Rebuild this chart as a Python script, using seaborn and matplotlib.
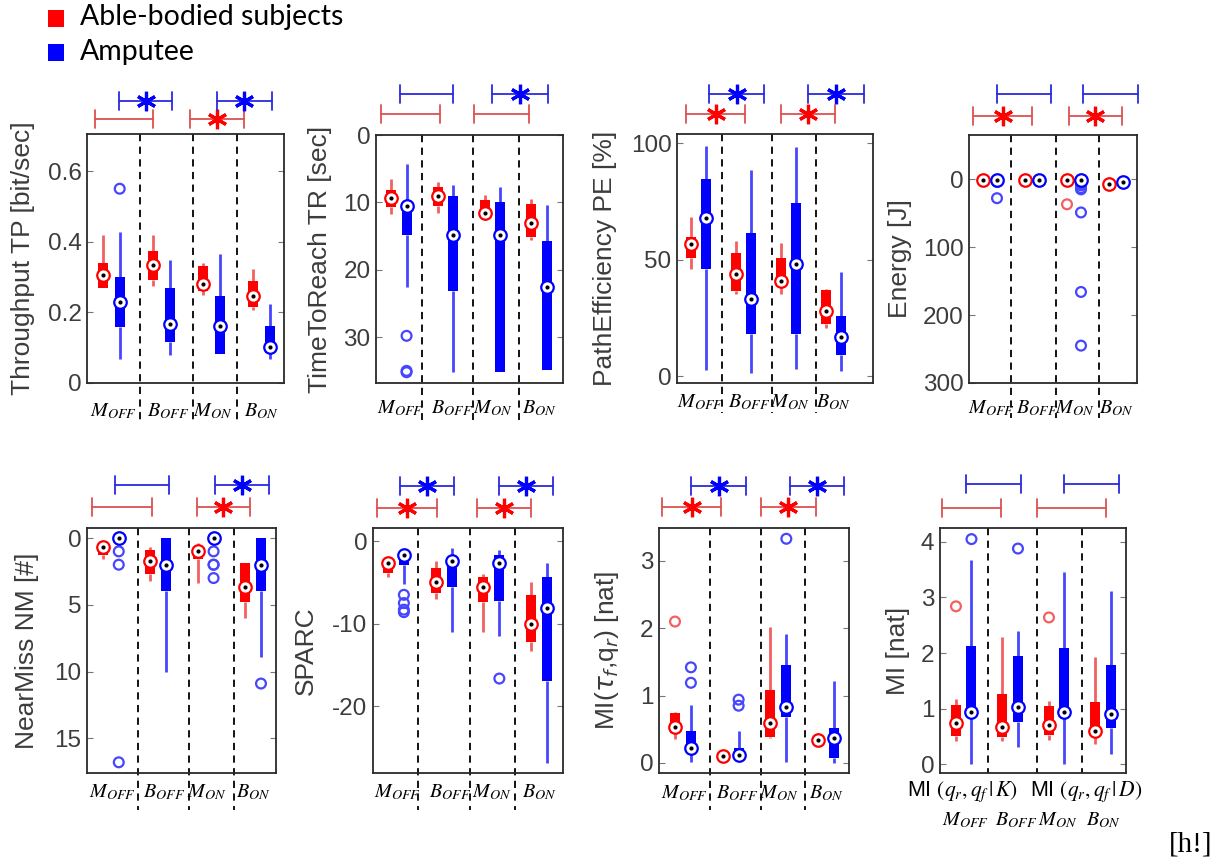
import numpy as np
import pandas as pd
import matplotlib
matplotlib.use("Agg")
import matplotlib.pyplot as plt
import matplotlib.transforms as mtransforms
from matplotlib.patches import Rectangle
import seaborn as sns

# ---------------- data ----------------
GROUPS = [r"$M_{OFF}$", r"$B_{OFF}$", r"$M_{ON}$", r"$B_{ON}$"]
SUBJECTS = ["Able-bodied subjects", "Amputee"]

# per group: [lower whisker, Q1, median, Q3, upper whisker]
TP_ABLE = [[0.27, 0.27, 0.307, 0.34, 0.42], [0.275, 0.293, 0.334, 0.373, 0.418],
           [0.249, 0.261, 0.28, 0.332, 0.34], [0.207, 0.216, 0.247, 0.29, 0.322]]
TP_AMP = [[0.068, 0.158, 0.23, 0.30, 0.428], [0.08, 0.116, 0.167, 0.268, 0.348],
          [0.082, 0.082, 0.16, 0.246, 0.364], [0.068, 0.085, 0.103, 0.16, 0.223]]
TP_ABLE_OUT = [[], [], [], []]
TP_AMP_OUT = [[0.55], [], [], []]

TR_ABLE = [[6.5, 8.2, 9.3, 10.7, 11.7], [7.0, 7.7, 9.1, 10.5, 11.5],
           [8.9, 9.7, 11.5, 12.2, 12.6], [9.5, 10.3, 13.1, 15.1, 15.6]]
TR_AMP = [[4.3, 10.3, 10.5, 14.9, 22.5], [7.4, 9.0, 14.8, 23.1, 35.1],
          [7.7, 10.0, 14.8, 35.1, 35.1], [10.4, 15.8, 22.5, 34.8, 34.8]]
TR_ABLE_OUT = [[], [], [], []]
TR_AMP_OUT = [[29.8, 35.0, 35.2], [], [], []]

PE_ABLE = [[45.8, 50.5, 56.7, 59.8, 68.4], [35.4, 36.4, 44.0, 53.0, 58.0],
           [35.4, 39.5, 40.9, 50.5, 57.2], [20.8, 22.5, 28.0, 36.9, 37.6]]
PE_AMP = [[2.7, 46.2, 67.7, 84.5, 98.9], [1.4, 17.9, 32.9, 61.3, 88.5],
          [3.2, 18.2, 48.1, 74.5, 98.6], [2.2, 8.9, 16.8, 25.8, 44.8]]
PE_ABLE_OUT = [[], [], [], []]
PE_AMP_OUT = [[], [], [], []]

EN_ABLE = [[0.0, 0.2, 0.5, 0.8, 1.2], [0.0, 0.2, 0.5, 0.8, 1.2],
           [0.0, 0.2, 0.5, 0.8, 1.2], [5.0, 6.0, 7.0, 8.0, 9.0]]
EN_AMP = [[0.0, 0.3, 0.8, 1.5, 2.5], [0.0, 0.5, 1.0, 2.0, 3.0],
          [0.0, 0.2, 0.5, 1.0, 1.5], [1.0, 2.0, 3.5, 4.5, 6.0]]
EN_ABLE_OUT = [[], [], [37], []]
EN_AMP_OUT = [[2, 3, 4, 28], [], [2, 4, 6, 9, 13, 15, 49, 166, 245], []]

NM_ABLE = [[0.4, 0.5, 0.7, 1.25, 1.6], [0.7, 0.9, 1.7, 2.7, 3.25],
           [0.4, 0.7, 1.0, 1.6, 3.4], [1.9, 1.9, 3.7, 4.8, 6.0]]
NM_AMP = [[0, 0, 0, 0, 0], [0, 0, 2, 4, 10], [0, 0, 0, 0, 0], [0, 0, 2, 4, 8.9]]
NM_ABLE_OUT = [[], [], [], []]
NM_AMP_OUT = [[1, 2, 16.8], [], [1, 2, 2, 3], [10.9]]

SP_ABLE = [[-4.4, -3.8, -2.7, -2.5, -2.2], [-7.0, -6.3, -4.9, -3.2, -2.4],
           [-11.0, -7.4, -5.5, -4.4, -4.0], [-13.3, -12.2, -10.0, -6.5, -5.0]]
SP_AMP = [[-5.2, -2.9, -1.7, -1.7, -1.1], [-11.0, -5.5, -2.4, -1.9, -0.8],
          [-11.5, -7.3, -2.66, -1.65, -1.05], [-26.9, -16.9, -8.1, -4.3, -2.7]]
SP_ABLE_OUT = [[], [], [], []]
SP_AMP_OUT = [[-6.5, -7.5, -8.3, -8.6], [], [-16.65], []]

MT_ABLE = [[0.35, 0.44, 0.53, 0.74, 0.76], [0.07, 0.08, 0.10, 0.12, 0.13],
           [0.37, 0.39, 0.59, 1.09, 2.02], [0.28, 0.30, 0.34, 0.39, 0.45]]
MT_AMP = [[0.01, 0.15, 0.22, 0.48, 0.86], [0.03, 0.05, 0.12, 0.22, 0.47],
          [0.01, 0.68, 0.83, 1.46, 1.92], [0.0, 0.07, 0.37, 0.52, 1.21]]
MT_ABLE_OUT = [[2.1], [], [], []]
MT_AMP_OUT = [[1.19, 1.42], [0.85, 0.94], [3.33], []]

MI_ABLE = [[0.41, 0.5, 0.74, 1.07, 1.18], [0.42, 0.49, 0.67, 1.27, 2.29],
           [0.43, 0.52, 0.71, 1.04, 1.14], [0.36, 0.52, 0.59, 1.11, 1.93]]
MI_AMP = [[0.01, 0.93, 0.93, 2.12, 3.68], [0.3, 0.76, 1.03, 1.94, 2.4],
          [0.01, 0.93, 0.93, 2.09, 3.46], [0.19, 0.65, 0.91, 1.78, 3.12]]
MI_ABLE_OUT = [[2.84], [], [2.64], []]
MI_AMP_OUT = [[4.05], [3.88], [], []]

# significance stars for the bars [able 1, amputee 1, able 2, amputee 2]
SIG = {
    "TP": [0, 1, 1, 1], "TR": [0, 0, 0, 1], "PE": [1, 1, 1, 1], "EN": [1, 0, 1, 0],
    "NM": [0, 0, 1, 1], "SP": [1, 1, 1, 1], "MT": [1, 1, 1, 1], "MI": [0, 0, 0, 0],
}

# ---------------- style ----------------
sns.set_theme(style="white")
plt.rcParams["font.family"] = ["Liberation Sans", "DejaVu Sans"]
plt.rcParams["axes.unicode_minus"] = False

RED, BLUE = "#ff0000", "#0000ff"
RED_W, BLUE_W = "#f26060", "#4646ff"
RED_BAR, BLUE_BAR = "#dd5050", "#2a2ae0"
TXT = "#3c3c3c"
W, H = 1227, 864

POS_ABLE = [1, 4, 7, 10]
POS_AMP = [2, 5, 8, 11]
LAB_X = [1.6, 4.9, 7.55, 10.5]

PANELS = [
    dict(key="TP", able=TP_ABLE, amp=TP_AMP, ao=TP_ABLE_OUT, bo=TP_AMP_OUT,
         ylabel="Throughput TP [bit/sec]", ylim=(0, 0.705), yt=[0, 0.2, 0.4, 0.6],
         ytl=["0", "0.2", "0.4", "0.6"], box=(87, 134, 284, 383), xlim=(0.04, 11.84),
         div=[3.2, 6.4, 9.0], bars=[(0.52, 4.0), (1.96, 5.13), (6.2, 9.44), (7.8, 11.1)],
         bdy=(15, 33), lab=28, ddy=39, ylx=23),
    dict(key="TR", able=TR_ABLE, amp=TR_AMP, ao=TR_ABLE_OUT, bo=TR_AMP_OUT,
         ylabel="TimeToReach TR [sec]", ylim=(36.8, 0), yt=[0, 10, 20, 30],
         ytl=["0", "10", "20", "30"], box=(376, 135, 563, 383), xlim=(0.04, 12.03),
         div=[2.99, 6.26, 9.2], bars=[(0.36, 4.13), (1.6, 5.0), (6.3, 9.85), (7.5, 11.06)],
         bdy=(21, 41), lab=25, ddy=37, ylx=320),
    dict(key="PE", able=PE_ABLE, amp=PE_AMP, ao=PE_ABLE_OUT, bo=PE_AMP_OUT,
         ylabel="PathEfficiency PE [%]", ylim=(-3, 104), yt=[0, 50, 100],
         ytl=["0", "50", "100"], box=(677, 134, 873, 383), xlim=(0.07, 13.1),
         div=[3.05, 6.36, 9.34], bars=[(0.67, 4.6), (2.2, 5.87), (7.0, 10.6), (8.8, 12.5)],
         bdy=(20, 40), lab=19, ddy=30, ylx=605),
    dict(key="EN", able=EN_ABLE, amp=EN_AMP, ao=EN_ABLE_OUT, bo=EN_AMP_OUT,
         ylabel="Energy [J]", ylim=(300, -65), yt=[0, 100, 200, 300],
         ytl=["0", "100", "200", "300"], box=(969, 135, 1137, 383), xlim=(0.0, 12.0),
         div=[3.0, 6.2, 9.3], bars=[(0.29, 4.5), (2.0, 5.86), (7.14, 10.9), (8.14, 12.07)],
         bdy=(19, 41), lab=25, ddy=35, ylx=900),
    dict(key="NM", able=NM_ABLE, amp=NM_AMP, ao=NM_ABLE_OUT, bo=NM_AMP_OUT,
         ylabel="NearMiss NM [#]", ylim=(17.6, -0.75), yt=[0, 5, 10, 15],
         ytl=["0", "5", "10", "15"], box=(87, 528, 276, 773), xlim=(-0.01, 11.95),
         div=[3.2, 6.44, 9.3], bars=[(0.3, 4.1), (1.76, 5.2), (6.95, 10.3), (8.1, 11.5)],
         bdy=(21, 43), lab=19, ddy=37, ylx=27),
    dict(key="SP", able=SP_ABLE, amp=SP_AMP, ao=SP_ABLE_OUT, bo=SP_AMP_OUT,
         ylabel="SPARC", ylim=(-28.1, 1.6), yt=[0, -10, -20],
         ytl=["0", "-10", "-20"], box=(373, 528, 563, 773), xlim=(0.06, 12.0),
         div=[2.9, 6.16, 9.0], bars=[(0.31, 4.08), (1.75, 5.15), (6.6, 10.0), (8.0, 11.4)],
         bdy=(20, 42), lab=19, ddy=37, ylx=306),
    dict(key="MT", able=MT_ABLE, amp=MT_AMP, ao=MT_ABLE_OUT, bo=MT_AMP_OUT,
         ylabel=r"MI($\tau_f$,q$_r$) [nat]", ylim=(-0.15, 3.49), yt=[0, 1, 2, 3],
         ytl=["0", "1", "2", "3"], box=(659, 528, 849, 773), xlim=(-0.006, 11.94),
         div=[3.2, 6.4, 9.2], bars=[(0.18, 3.9), (2.0, 5.47), (6.4, 9.87), (8.2, 11.6)],
         bdy=(21, 42), lab=20, ddy=37, ylx=607),
    dict(key="MI", able=MI_ABLE, amp=MI_AMP, ao=MI_ABLE_OUT, bo=MI_AMP_OUT,
         ylabel="MI [nat]", ylim=(-0.16, 4.25), yt=[0, 1, 2, 3, 4],
         ytl=["0", "1", "2", "3", "4"], box=(940, 528, 1126, 773), xlim=(-0.03, 11.97),
         div=[3.06, 6.2, 9.1], bars=[(0.1, 3.9), (1.65, 5.2), (6.2, 10.7), (8.0, 11.5)],
         bdy=(20, 44), lab=47, ddy=0, ylx=898),
]

fig = plt.figure(figsize=(W / 100, H / 100), dpi=100)


def draw_group(ax, stats5, outs, pos, color, wcolor, width):
    stats = [dict(whislo=s[0], q1=s[1], med=s[2], q3=s[3], whishi=s[4], fliers=[])
             for s in stats5]
    ax.bxp(stats, positions=pos, widths=width, patch_artist=True, showcaps=False,
           showfliers=False, manage_ticks=False,
           boxprops=dict(facecolor=color, edgecolor=color, linewidth=0, zorder=3),
           whiskerprops=dict(color=wcolor, linewidth=2.0, zorder=2, solid_capstyle="butt"),
           medianprops=dict(linewidth=0))
    rows = [(p, v) for p, vals in zip(pos, outs) for v in vals]
    if rows:
        df = pd.DataFrame(rows, columns=["pos", "val"])
        sns.scatterplot(data=df, x="pos", y="val", ax=ax, color=color, s=50,
                        facecolor="none", edgecolor=wcolor, linewidth=1.6,
                        legend=False, zorder=4)
    meds = [s[2] for s in stats5]
    ax.plot(pos, meds, "o", ms=9.0, mfc="white", mec=color, mew=1.6, zorder=5,
            linestyle="none")
    ax.plot(pos, meds, "o", ms=3.0, mfc="black", mec="black", mew=0, zorder=6,
            linestyle="none")


for p in PANELS:
    l, t, r, b = p["box"]
    ax = fig.add_axes([l / W, 1 - b / H, (r - l) / W, (b - t) / H])
    hpx = b - t
    ppu = (r - l) / (p["xlim"][1] - p["xlim"][0])
    width = 10.0 / ppu
    draw_group(ax, p["able"], p["ao"], POS_ABLE, RED, RED_W, width)
    draw_group(ax, p["amp"], p["bo"], POS_AMP, BLUE, BLUE_W, width)
    ax.set_xlim(*p["xlim"])
    ax.set_ylim(*p["ylim"])
    ax.set_xticks([])
    ax.set_xlabel("")
    ax.set_yticks(p["yt"])
    ax.set_yticklabels(p["ytl"])
    ax.tick_params(axis="y", direction="in", length=4, width=0.8, left=True, right=True,
                   color="#777777", labelcolor=TXT, labelsize=17.5, pad=4)
    for sp in ax.spines.values():
        sp.set_color("#2a2a2a")
        sp.set_linewidth(1.3)
    ax.set_ylabel(p["ylabel"], fontsize=19, color=TXT, va="center",
                  math_fontfamily="dejavusans")
    ax.yaxis.set_label_coords((p["ylx"] - l) / (r - l), 0.5)

    trans = mtransforms.blended_transform_factory(ax.transData, ax.transAxes)
    # dividers
    for d in p["div"]:
        ax.plot([d, d], [1, -p["ddy"] / hpx], color="black", lw=1.3,
                dashes=(4, 3), transform=trans, clip_on=False, zorder=1)
    # significance bars
    cap = 9.0 / hpx
    ylev = [1 + p["bdy"][0] / hpx, 1 + p["bdy"][1] / hpx]
    cols = [(RED_BAR, RED), (BLUE_BAR, BLUE), (RED_BAR, RED), (BLUE_BAR, BLUE)]
    for i, (x0, x1) in enumerate(p["bars"]):
        y = ylev[i % 2]
        lc, sc = cols[i]
        ax.plot([x0, x1], [y, y], color=lc, lw=1.3, transform=trans, clip_on=False)
        for xe in (x0, x1):
            ax.plot([xe, xe], [y - cap, y + cap], color=lc, lw=1.3, transform=trans,
                    clip_on=False)
        if SIG[p["key"]][i]:
            ax.plot([(x0 + x1) / 2], [y], marker=(6, 2, 0), ms=14, mew=2.3, color=sc,
                    transform=trans, clip_on=False, linestyle="none")
    # group labels
    for gx, g in zip(LAB_X, GROUPS):
        ax.text(gx, -p["lab"] / hpx, g, transform=trans, ha="center", va="center",
                fontsize=14.5, math_fontfamily="stix", color="black")
    if p["key"] == "MI":
        for gx, g in zip([1.45, 9.4], ["K", "D"]):
            ax.text(gx, -19 / hpx, r"MI $(q_r,q_f\,|\,%s)$" % g, transform=trans,
                    ha="center", va="center", fontsize=15.5, math_fontfamily="stix",
                    color="black")

# legend
for (y0, y1, ty), c, name in zip([(10, 27, 17), (44, 61, 52)], [RED, BLUE], SUBJECTS):
    fig.add_artist(Rectangle((48 / W, 1 - y1 / H), 16 / W, (y1 - y0) / H,
                             transform=fig.transFigure, facecolor=c, edgecolor="none"))
    fig.text(80 / W, 1 - ty / H, name, fontsize=20.5, family=["Lato", "DejaVu Sans"],
             va="center", ha="left", color="black")

fig.text(1191 / W, 1 - 845 / H, "[h!]", fontsize=21, family=["Liberation Serif"],
         ha="center", va="center", color="black")

fig.savefig("out.png", dpi=100)
